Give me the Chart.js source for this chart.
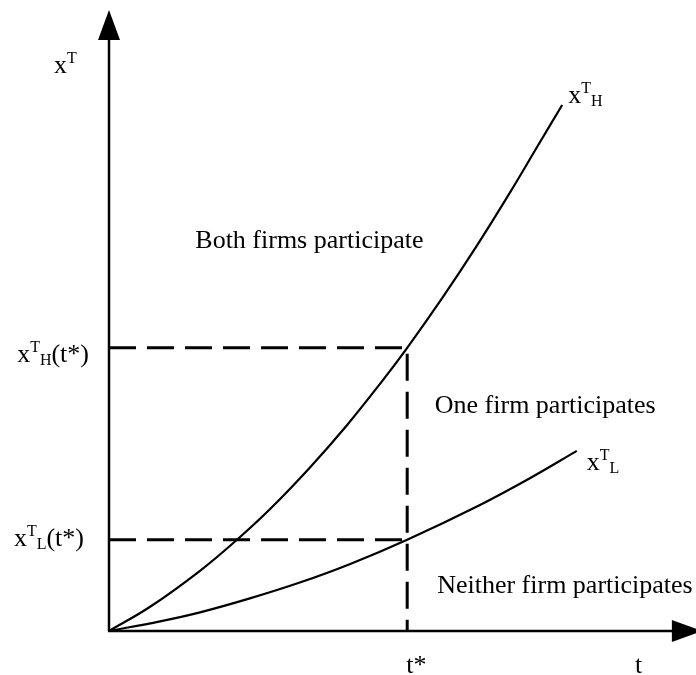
<!DOCTYPE html>
<html>
<head>
<meta charset="utf-8">
<script src="https://cdn.jsdelivr.net/npm/chart.js@4"></script>
<style>
  html, body { margin: 0; padding: 0; background: #fff; }
  #wrap { width: 696px; height: 675px; }
</style>
</head>
<body>
<div id="wrap"><canvas id="diagram" width="696" height="675"></canvas></div>
<script>
// curve for the high type, x^T_H(t)
const tHigh = [0, 7.0, 15.5, 21.8, 27.4, 34.2, 40.5, 46.5, 50.8, 56.9, 62.7, 68.3, 72.9, 77.2];
const xHigh = [0, 3.9, 9.7, 14.7, 19.6, 26.3, 33.1, 40.2, 45.6, 53.8, 62.1, 70.6, 77.9, 84.7];

// curve for the low type, x^T_L(t)
const tLow = [0, 8.7, 15.5, 24.0, 32.5, 41.1, 50.8, 63.2, 71.7, 79.7];
const xLow = [0, 1.55, 3.0, 5.25, 7.8, 10.8, 14.7, 20.3, 24.6, 29.0];

// t* and the two thresholds at t*
const tStar = 50.8;
const xHighAtStar = 45.6;
const xLowAtStar = 14.7;

// axis ends (arrow tips)
const tAxisEnd = 101;
const xAxisEnd = 100;

const regionLabels = ["Both firms participate", "One firm participates", "Neither firm participates"];

const FONT = '"Liberation Serif", "Times New Roman", serif';
const BIG = 26;
const SMALL = 16;

const toPoints = (xs, ys) => xs.map((v, i) => ({ x: v, y: ys[i] }));

// draws text like x^T_H(t*) from parts: [text, 'n' | 'sup' | 'sub']
function mathWidth(ctx, parts) {
  let w = 0;
  parts.forEach(([txt, kind]) => {
    ctx.font = `${kind === 'n' ? BIG : SMALL}px ${FONT}`;
    w += ctx.measureText(txt).width;
  });
  return w;
}
function drawMath(ctx, x, y, parts, align) {
  if (align === 'right') x -= mathWidth(ctx, parts);
  ctx.textAlign = 'left';
  ctx.textBaseline = 'alphabetic';
  parts.forEach(([txt, kind]) => {
    ctx.font = `${kind === 'n' ? BIG : SMALL}px ${FONT}`;
    const dy = kind === 'sup' ? -10 : kind === 'sub' ? 3 : 0;
    ctx.fillText(txt, x, y + dy);
    x += ctx.measureText(txt).width;
  });
}

const diagram = {
  id: 'diagram',
  afterDatasetsDraw(chart) {
    const ctx = chart.ctx;
    const xs = chart.scales.x, ys = chart.scales.y;
    const x0 = xs.getPixelForValue(0), y0 = ys.getPixelForValue(0);
    const yTip = ys.getPixelForValue(xAxisEnd);
    const xTip = xs.getPixelForValue(tAxisEnd);
    const headLen = 30, headHalf = 11;

    ctx.save();
    ctx.strokeStyle = '#000';
    ctx.fillStyle = '#000';
    ctx.lineWidth = 2.5;

    // axes
    ctx.beginPath();
    ctx.moveTo(x0, y0);
    ctx.lineTo(x0, yTip + headLen - 1);
    ctx.moveTo(x0 - 1, y0);
    ctx.lineTo(xTip - headLen + 1, y0);
    ctx.stroke();

    // arrow heads
    ctx.beginPath();
    ctx.moveTo(x0, yTip);
    ctx.lineTo(x0 - headHalf, yTip + headLen);
    ctx.lineTo(x0 + headHalf, yTip + headLen);
    ctx.closePath();
    ctx.fill();
    ctx.beginPath();
    ctx.moveTo(xTip, y0);
    ctx.lineTo(xTip - headLen, y0 - headHalf);
    ctx.lineTo(xTip - headLen, y0 + headHalf);
    ctx.closePath();
    ctx.fill();

    // axis titles
    drawMath(ctx, x0 - 55, yTip + 63, [['x', 'n'], ['T', 'sup']]);
    drawMath(ctx, xs.getPixelForValue(tStar) - 1, y0 + 42, [['t*', 'n']]);
    drawMath(ctx, xs.getPixelForValue(89.6), y0 + 42, [['t', 'n']]);

    // threshold labels on the vertical axis
    drawMath(ctx, x0 - 20, ys.getPixelForValue(xHighAtStar) + 14,
      [['x', 'n'], ['T', 'sup'], ['H', 'sub'], ['(t*)', 'n']], 'right');
    drawMath(ctx, x0 - 25, ys.getPixelForValue(xLowAtStar) + 6,
      [['x', 'n'], ['T', 'sup'], ['L', 'sub'], ['(t*)', 'n']], 'right');

    // curve labels
    const hEnd = tHigh.length - 1, lEnd = tLow.length - 1;
    drawMath(ctx, xs.getPixelForValue(tHigh[hEnd]) + 6, ys.getPixelForValue(xHigh[hEnd]) - 2,
      [['x', 'n'], ['T', 'sup'], ['H', 'sub']]);
    drawMath(ctx, xs.getPixelForValue(tLow[lEnd]) + 10, ys.getPixelForValue(xLow[lEnd]) + 19,
      [['x', 'n'], ['T', 'sup'], ['L', 'sub']]);

    // region labels
    drawMath(ctx, xs.getPixelForValue(14.7), ys.getPixelForValue(61.7), [[regionLabels[0], 'n']]);
    drawMath(ctx, xs.getPixelForValue(55.5), ys.getPixelForValue(35.1), [[regionLabels[1], 'n']]);
    drawMath(ctx, xs.getPixelForValue(55.9), ys.getPixelForValue(6.1), [[regionLabels[2], 'n']]);
    ctx.restore();
  }
};

const curveStyle = {
  borderColor: '#000',
  borderWidth: 2.2,
  pointRadius: 0,
  fill: false,
  tension: 0.4,
  clip: false,
};
const dashStyle = {
  borderColor: '#000',
  borderWidth: 3,
  borderDash: [27, 11],
  pointRadius: 0,
  fill: false,
  tension: 0,
  clip: false,
};

new Chart(document.getElementById('diagram'), {
  type: 'line',
  data: {
    datasets: [
      { ...dashStyle, label: 'high at t*', data: [{ x: 0, y: xHighAtStar }, { x: tStar, y: xHighAtStar }, { x: tStar, y: 0 }] },
      { ...dashStyle, label: 'low at t*', data: [{ x: 0, y: xLowAtStar }, { x: tStar, y: xLowAtStar }] },
      { ...curveStyle, label: 'xT_H', data: toPoints(tHigh, xHigh) },
      { ...curveStyle, label: 'xT_L', data: toPoints(tLow, xLow) },
    ],
  },
  options: {
    responsive: false,
    animation: false,
    devicePixelRatio: 1,
    layout: { padding: { left: 109, right: 0, top: 10, bottom: 44 } },
    scales: {
      x: { type: 'linear', min: 0, max: 100, display: false },
      y: { type: 'linear', min: 0, max: 100, display: false },
    },
    plugins: {
      legend: { display: false },
      tooltip: { enabled: false },
    },
  },
  plugins: [diagram],
});
</script>
</body>
</html>
